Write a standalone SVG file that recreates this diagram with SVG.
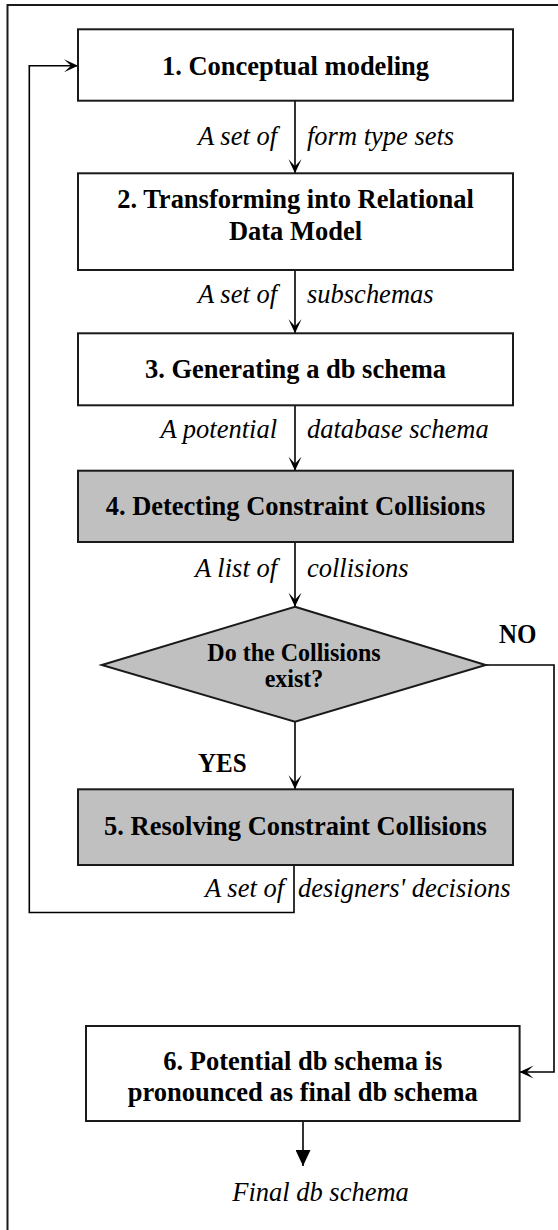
<svg xmlns="http://www.w3.org/2000/svg" width="558" height="1230" viewBox="0 0 558 1230">
<style>
.box{fill:#ffffff;stroke:#1a1a1a;stroke-width:2}
.gray{fill:#c0c0c0;stroke:#1a1a1a;stroke-width:2}
.t{font-family:"Liberation Serif","Times New Roman",serif;font-weight:bold;font-size:26.5px;fill:#000;text-anchor:middle}
.d{font-family:"Liberation Serif","Times New Roman",serif;font-weight:bold;font-size:24px;fill:#000;text-anchor:middle}
.yn{font-family:"Liberation Serif","Times New Roman",serif;font-weight:bold;font-size:25px;fill:#000}
.l{font-family:"Liberation Serif","Times New Roman",serif;font-style:italic;font-size:26.5px;fill:#000}
.e{text-anchor:end}
.c{fill:none;stroke:#000;stroke-width:1.6}
</style>
<defs>
<marker id="arr" viewBox="0 0 14 14" refX="14" refY="7" markerWidth="14" markerHeight="14" markerUnits="userSpaceOnUse" orient="auto">
<path d="M0,0.5 L14,7 L0,13.5 L7,7 Z" fill="#000"/>
</marker>
<marker id="tri" viewBox="0 0 16 15" refX="16" refY="7.5" markerWidth="16" markerHeight="15" markerUnits="userSpaceOnUse" orient="auto">
<path d="M0,0 L16,7.5 L0,15 Z" fill="#000"/>
</marker>
</defs>
<rect id="frame" x="7.5" y="5" width="600" height="1300" fill="none" stroke="#1a1a1a" stroke-width="2"/>
<g id="connectors">
<line class="c" x1="295" y1="100.7" x2="295" y2="173.3" marker-end="url(#arr)"/>
<line class="c" x1="295" y1="270" x2="295" y2="333.3" marker-end="url(#arr)"/>
<line class="c" x1="295" y1="405.3" x2="295" y2="470.7" marker-end="url(#arr)"/>
<line class="c" x1="295" y1="542" x2="295" y2="606.7" marker-end="url(#arr)"/>
<line class="c" x1="295" y1="721.7" x2="295" y2="789.3" marker-end="url(#arr)"/>
<polyline class="c" points="294,865 294,912.5 29.3,912.5 29.3,65.7 78,65.7" marker-end="url(#arr)"/>
<polyline class="c" points="485.7,665 554,665 554,1072 519.6,1072" marker-end="url(#arr)"/>
<line class="c" x1="303" y1="1121" x2="303" y2="1166" marker-end="url(#tri)"/>
<text class="l e" transform="translate(277,145) scale(1,1.07)">A set of</text>
<text class="l" transform="translate(307,145) scale(1,1.07)">form type sets</text>
<text class="l e" transform="translate(277,303) scale(1,1.07)">A set of</text>
<text class="l" transform="translate(307,303) scale(1,1.07)">subschemas</text>
<text class="l e" transform="translate(277,438) scale(1,1.07)">A potential</text>
<text class="l" transform="translate(307,438) scale(1,1.07)">database schema</text>
<text class="l e" transform="translate(277,577) scale(1,1.07)">A list of</text>
<text class="l" transform="translate(307,577) scale(1,1.07)">collisions</text>
<text class="yn" transform="translate(499,643) scale(1,1.07)">NO</text>
<text class="yn" transform="translate(198,772) scale(1,1.07)">YES</text>
<text class="l e" transform="translate(284,897) scale(1,1.07)">A set of</text>
<text class="l" transform="translate(298,897) scale(1,1.07)">designers' decisions</text>
<text class="l" text-anchor="middle" transform="translate(320.5,1201) scale(1,1.07)">Final db schema</text>
</g>
<g id="n1">
<rect class="box" x="78" y="29.3" width="435" height="71.4"/>
<text class="t" transform="translate(295.5,75) scale(1,1.07)">1. Conceptual modeling</text>
</g>
<g id="n2">
<rect class="box" x="78" y="173.3" width="435" height="96.7"/>
<text class="t" transform="translate(295.5,208) scale(1,1.07)">2. Transforming into Relational</text>
<text class="t" transform="translate(295.5,240) scale(1,1.07)">Data Model</text>
</g>
<g id="n3">
<rect class="box" x="78" y="333.3" width="435" height="72"/>
<text class="t" transform="translate(295.5,378) scale(1,1.07)">3. Generating a db schema</text>
</g>
<g id="n4">
<rect class="gray" x="78" y="470.7" width="435" height="71.3"/>
<text class="t" transform="translate(295.5,515) scale(1,1.07)">4. Detecting Constraint Collisions</text>
</g>
<g id="dec">
<polygon class="gray" points="295,606.7 485.7,665 295,721.7 101.8,665"/>
<text class="d" transform="translate(294,661) scale(1,1.07)">Do the Collisions</text>
<text class="d" transform="translate(294,687) scale(1,1.07)">exist?</text>
</g>
<g id="n5">
<rect class="gray" x="78" y="789.3" width="435" height="75.7"/>
<text class="t" transform="translate(295.5,835) scale(1,1.07)">5. Resolving Constraint Collisions</text>
</g>
<g id="n6">
<rect class="box" x="86" y="1026" width="433.6" height="95"/>
<text class="t" transform="translate(302.8,1070) scale(1,1.07)">6. Potential db schema is</text>
<text class="t" transform="translate(302.8,1101) scale(1,1.07)">pronounced as final db schema</text>
</g>
</svg>
